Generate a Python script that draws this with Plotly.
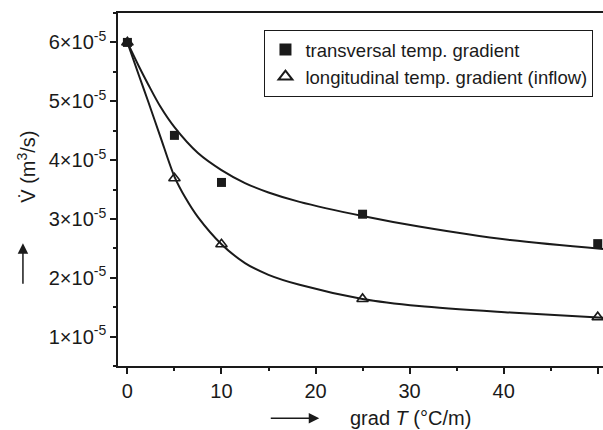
import plotly.graph_objects as go

# measured points
x_pts = [0, 5, 10, 25, 50]
trans_pts = [6.00e-5, 4.42e-5, 3.62e-5, 3.08e-5, 2.58e-5]
long_pts = [6.00e-5, 3.69e-5, 2.57e-5, 1.64e-5, 1.33e-5]

# fitted curves
trans_fit_x = [0, 1.2, 2.2, 3.5, 5, 7.5, 10, 12.5, 15, 18.3, 25, 31, 40.7, 50.6]
trans_fit_y = [6.00e-5, 5.60e-5, 5.29e-5, 4.91e-5, 4.56e-5, 4.12e-5, 3.83e-5, 3.61e-5,
               3.45e-5, 3.29e-5, 3.05e-5, 2.87e-5, 2.64e-5, 2.49e-5]
long_fit_x = [0, 1.2, 2.2, 3.5, 5, 6.2, 7.5, 10, 12.5, 15, 18.3, 25, 31, 40.7, 50.6]
long_fit_y = [6.00e-5, 5.45e-5, 5.00e-5, 4.40e-5, 3.72e-5, 3.35e-5, 3.03e-5, 2.57e-5,
              2.25e-5, 2.05e-5, 1.88e-5, 1.64e-5, 1.52e-5, 1.41e-5, 1.32e-5]

y_tickvals = [1e-5, 2e-5, 3e-5, 4e-5, 5e-5, 6e-5]
y_ticktext = [f"{i}×10<sup>-5</sup>" for i in range(1, 7)]
x_tickvals = [0, 10, 20, 30, 40, 50]

FONT = "Liberation Sans, Arial, sans-serif"
INK = "#1a1a1a"

fig = go.Figure()
fig.add_trace(go.Scatter(x=trans_fit_x, y=trans_fit_y, mode="lines",
                         line=dict(color=INK, width=2, shape="spline", smoothing=0.9),
                         showlegend=False, hoverinfo="skip"))
fig.add_trace(go.Scatter(x=long_fit_x, y=long_fit_y, mode="lines",
                         line=dict(color=INK, width=2, shape="spline", smoothing=0.9),
                         showlegend=False, hoverinfo="skip"))
fig.add_trace(go.Scatter(x=x_pts, y=trans_pts, mode="markers",
                         name="transversal temp. gradient",
                         marker=dict(symbol="square", size=9, color=INK)))
fig.add_trace(go.Scatter(x=x_pts, y=long_pts, mode="markers",
                         name="longitudinal temp. gradient (inflow)",
                         marker=dict(symbol="triangle-up-open", size=10, color=INK,
                                     line=dict(width=1.6, color=INK))))

fig.update_layout(
    width=603, height=430,
    margin=dict(l=118, r=0, t=13, b=64),
    plot_bgcolor="white", paper_bgcolor="white",
    font=dict(family=FONT, size=19, color=INK),
    legend=dict(x=0.302, y=0.952, xanchor="left", yanchor="top",
                bordercolor=INK, borderwidth=1, bgcolor="white",
                font=dict(size=18.5), itemsizing="constant", itemwidth=30,
                tracegroupgap=0),
    xaxis=dict(range=[-1, 50.56], tickvals=x_tickvals, ticks="outside", ticklen=6,
               tickwidth=1.5, tickcolor=INK, showline=True, linecolor=INK, linewidth=1.5,
               mirror=True, showgrid=False, zeroline=False,
               tickfont=dict(size=20),
               minor=dict(tickmode="linear", tick0=5, dtick=10, ticks="outside",
                          ticklen=3, tickwidth=1.5, tickcolor=INK)),
    yaxis=dict(range=[0.5e-5, 6.5e-5], tickvals=y_tickvals, ticktext=y_ticktext,
               ticks="outside", ticklen=6, tickwidth=1.5, tickcolor=INK, showline=True,
               linecolor=INK, linewidth=1.5, showgrid=False, zeroline=False,
               tickfont=dict(size=20),
               minor=dict(tickmode="linear", tick0=0.5e-5, dtick=1e-5, ticks="outside",
                          ticklen=3, tickwidth=1.5, tickcolor=INK)),
)

# axis titles with arrows
fig.add_annotation(xref="paper", yref="paper", x=-0.188, y=0.564,
                   text="V̇ (m<sup>3</sup>/s)",
                   textangle=-90, showarrow=False, font=dict(size=20),
                   xanchor="center", yanchor="middle")
fig.add_annotation(xref="paper", yref="paper", x=-0.196, y=0.348, ax=0, ay=42,
                   axref="pixel", ayref="pixel", text="", showarrow=True,
                   arrowhead=2, arrowsize=1.4, arrowwidth=1.5, arrowcolor=INK)
fig.add_annotation(xref="paper", yref="paper", x=0.604, y=-0.148,
                   text="grad <i>T</i> (°C/m)", showarrow=False, font=dict(size=20),
                   xanchor="center", yanchor="middle")
fig.add_annotation(xref="paper", yref="paper", x=0.415, y=-0.148, ax=-50, ay=0,
                   axref="pixel", ayref="pixel", text="", showarrow=True,
                   arrowhead=2, arrowsize=1.4, arrowwidth=1.5, arrowcolor=INK)

fig.write_html("out.html")
